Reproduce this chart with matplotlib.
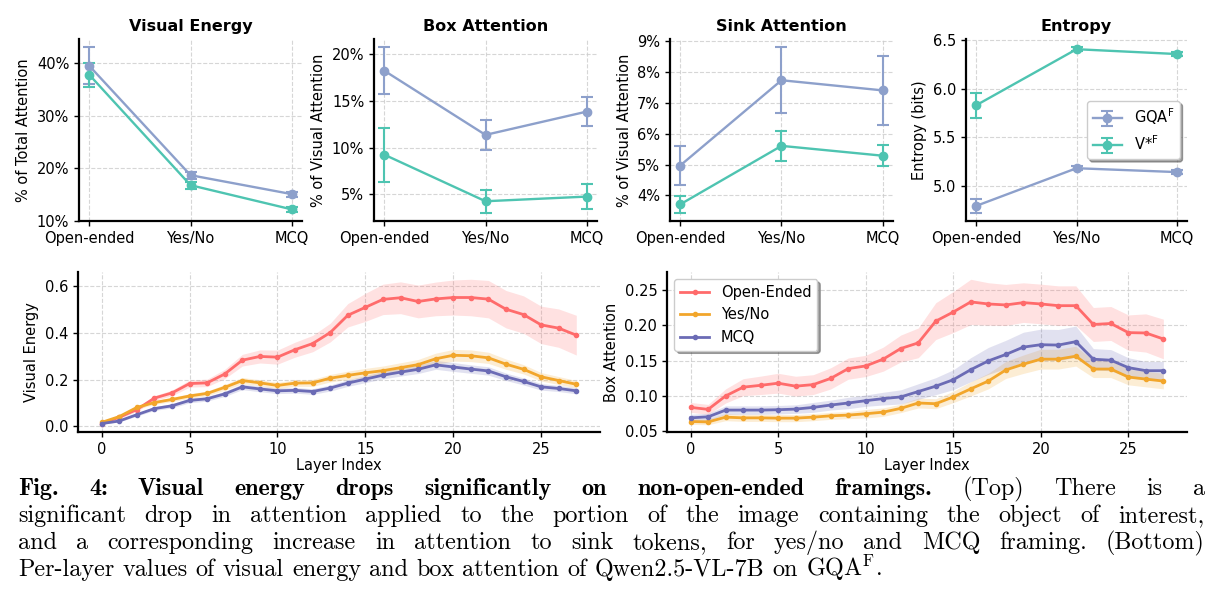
import matplotlib
matplotlib.use("Agg")
import matplotlib.pyplot as plt
from matplotlib.ticker import FuncFormatter
import numpy as np

# ---- data ----
framings = ["Open-ended", "Yes/No", "MCQ"]

ve_gqa = [39.5, 18.7, 15.1]
ve_gqa_err = [3.5, 0.7, 0.5]
ve_vstar = [37.8, 16.8, 12.2]
ve_vstar_err = [2.3, 0.7, 0.5]

box_gqa = [18.25, 11.36, 13.86]
box_gqa_err = [2.5, 1.6, 1.57]
box_vstar = [9.25, 4.25, 4.75]
box_vstar_err = [2.9, 1.23, 1.32]

sink_gqa = [4.97, 7.74, 7.41]
sink_gqa_err = [0.62, 1.07, 1.13]
sink_vstar = [3.71, 5.61, 5.29]
sink_vstar_err = [0.27, 0.49, 0.34]

ent_gqa = [4.79, 5.18, 5.14]
ent_gqa_err = [0.07, 0.02, 0.02]
ent_vstar = [5.83, 6.41, 6.36]
ent_vstar_err = [0.13, 0.02, 0.02]

layers = list(range(28))

energy_open = [0.012, 0.039, 0.072, 0.121, 0.143, 0.183, 0.186, 0.224, 0.283, 0.299,
               0.296, 0.328, 0.354, 0.401, 0.475, 0.509, 0.543, 0.550, 0.534, 0.545,
               0.551, 0.551, 0.544, 0.501, 0.478, 0.434, 0.420, 0.390]
energy_open_std = [0.005, 0.006, 0.008, 0.010, 0.012, 0.015, 0.016, 0.020, 0.025, 0.028,
                   0.030, 0.032, 0.035, 0.040, 0.050, 0.060, 0.065, 0.068, 0.070, 0.072,
                   0.075, 0.078, 0.080, 0.080, 0.080, 0.080, 0.082, 0.085]
energy_yesno = [0.017, 0.042, 0.081, 0.102, 0.115, 0.130, 0.141, 0.167, 0.196, 0.186,
                0.175, 0.185, 0.186, 0.206, 0.218, 0.229, 0.238, 0.251, 0.264, 0.289,
                0.304, 0.302, 0.293, 0.266, 0.244, 0.212, 0.196, 0.180]
energy_yesno_std = [0.003, 0.005, 0.007, 0.008, 0.009, 0.010, 0.010, 0.012, 0.013, 0.013,
                    0.013, 0.014, 0.015, 0.016, 0.018, 0.019, 0.020, 0.021, 0.022, 0.024,
                    0.025, 0.025, 0.024, 0.022, 0.020, 0.018, 0.017, 0.016]
energy_mcq = [0.012, 0.023, 0.050, 0.076, 0.088, 0.111, 0.118, 0.139, 0.169, 0.160,
              0.152, 0.154, 0.149, 0.164, 0.185, 0.202, 0.219, 0.232, 0.244, 0.263,
              0.254, 0.245, 0.237, 0.212, 0.192, 0.169, 0.162, 0.152]
energy_mcq_std = [0.003, 0.004, 0.006, 0.008, 0.009, 0.010, 0.010, 0.011, 0.012, 0.012,
                  0.012, 0.012, 0.012, 0.013, 0.014, 0.015, 0.016, 0.017, 0.018, 0.019,
                  0.019, 0.018, 0.018, 0.016, 0.015, 0.014, 0.013, 0.013]

box_open = [0.0838, 0.0810, 0.1000, 0.1124, 0.1150, 0.1180, 0.1138, 0.1160, 0.1248, 0.1386,
            0.1424, 0.1520, 0.1670, 0.1750, 0.2057, 0.2186, 0.2329, 0.2300, 0.2286, 0.2319,
            0.2300, 0.2276, 0.2276, 0.2010, 0.2024, 0.1895, 0.1890, 0.1805]
box_open_std = [0.007, 0.007, 0.010, 0.012, 0.013, 0.014, 0.014, 0.014, 0.015, 0.015,
                0.015, 0.017, 0.019, 0.021, 0.026, 0.029, 0.032, 0.030, 0.029, 0.028,
                0.028, 0.028, 0.028, 0.024, 0.024, 0.025, 0.027, 0.028]
box_yesno = [0.0638, 0.0633, 0.0700, 0.0690, 0.0690, 0.0686, 0.0686, 0.0700, 0.0719, 0.0729,
             0.0748, 0.0771, 0.0824, 0.0900, 0.0890, 0.0986, 0.1100, 0.1210, 0.1367, 0.1448,
             0.1520, 0.1520, 0.1562, 0.1380, 0.1380, 0.1267, 0.1238, 0.1210]
box_yesno_std = [0.004, 0.004, 0.005, 0.005, 0.005, 0.005, 0.005, 0.005, 0.005, 0.005,
                 0.006, 0.006, 0.006, 0.007, 0.007, 0.008, 0.010, 0.011, 0.012, 0.013,
                 0.014, 0.014, 0.014, 0.012, 0.012, 0.011, 0.011, 0.011]
box_mcq = [0.0690, 0.0705, 0.0800, 0.0800, 0.0800, 0.0805, 0.0814, 0.0838, 0.0871, 0.0900,
           0.0933, 0.0962, 0.0986, 0.1062, 0.1138, 0.1229, 0.1371, 0.1495, 0.1586, 0.1690,
           0.1724, 0.1719, 0.1767, 0.1519, 0.1505, 0.1400, 0.1357, 0.1357]
box_mcq_std = [0.005, 0.005, 0.006, 0.006, 0.006, 0.006, 0.006, 0.007, 0.007, 0.008,
               0.008, 0.009, 0.010, 0.011, 0.012, 0.014, 0.017, 0.019, 0.020, 0.021,
               0.022, 0.022, 0.022, 0.015, 0.015, 0.014, 0.013, 0.013]

c_gqa = "#8DA0CB"
c_vstar = "#4EC4B1"
c_open = "#FF6B6B"
c_yesno = "#F2A62B"
c_mcq = "#6B6BB5"

W, H = 1223, 613
fig = plt.figure(figsize=(W / 100, H / 100), dpi=100)


def px_axes(l, r, t, b):
    return fig.add_axes([l / W, 1 - b / H, (r - l) / W, (b - t) / H])


def style(ax):
    ax.spines["top"].set_visible(False)
    ax.spines["right"].set_visible(False)
    ax.spines["left"].set_linewidth(1.6)
    ax.spines["bottom"].set_linewidth(1.6)
    ax.grid(True, linestyle="--", color="#cccccc", linewidth=0.8, alpha=0.8)
    ax.set_axisbelow(True)
    ax.tick_params(labelsize=10.5, length=3.5, width=1)


pct = FuncFormatter(lambda v, p: f"{v:.0f}%")

top_panels = [
    ("Visual Energy", "% of Total Attention", ve_gqa, ve_gqa_err, ve_vstar, ve_vstar_err, [10, 20, 30, 40], pct),
    ("Box Attention", "% of Visual Attention", box_gqa, box_gqa_err, box_vstar, box_vstar_err, [5, 10, 15, 20], pct),
    ("Sink Attention", "% of Visual Attention", sink_gqa, sink_gqa_err, sink_vstar, sink_vstar_err, [4, 5, 6, 7, 8, 9], pct),
    ("Entropy", "Entropy (bits)", ent_gqa, ent_gqa_err, ent_vstar, ent_vstar_err, [5.0, 5.5, 6.0, 6.5], None),
]
lefts = [(79, 302), (374, 597), (670, 893), (966, 1187)]

for (title, ylabel, g, ge, v, ve, yt, fmt), (l, r) in zip(top_panels, lefts):
    ax = px_axes(l, r, 39, 221)
    style(ax)
    x = np.arange(len(framings))
    ax.errorbar(x, g, yerr=ge, color=c_gqa, marker="o", markersize=6, linewidth=1.7,
                elinewidth=1.5, capsize=4, capthick=1.5, label=r"GQA$^{\mathrm{F}}$")
    ax.errorbar(x, v, yerr=ve, color=c_vstar, marker="o", markersize=6, linewidth=1.7,
                elinewidth=1.5, capsize=4, capthick=1.5, label=r"V*$^{\mathrm{F}}$")
    ax.set_xticks(x)
    ax.set_xticklabels(framings)
    ax.set_yticks(yt)
    if fmt is not None:
        ax.yaxis.set_major_formatter(fmt)
    ax.set_title(title, fontsize=11.5, fontweight="bold", pad=6)
    ax.set_ylabel(ylabel, fontsize=10.5)
    if title == "Entropy":
        ax.legend(loc="center right", fontsize=10.5, shadow=True, framealpha=1,
                  bbox_to_anchor=(1.0, 0.5))

bottom_panels = [
    ("Visual Energy", (78, 600),
     [(energy_open, energy_open_std, c_open, "Open-Ended"),
      (energy_yesno, energy_yesno_std, c_yesno, "Yes/No"),
      (energy_mcq, energy_mcq_std, c_mcq, "MCQ")]),
    ("Box Attention", (667, 1187),
     [(box_open, box_open_std, c_open, "Open-Ended"),
      (box_yesno, box_yesno_std, c_yesno, "Yes/No"),
      (box_mcq, box_mcq_std, c_mcq, "MCQ")]),
]

for ylabel, (l, r), series in bottom_panels:
    ax = px_axes(l, r, 272, 432)
    style(ax)
    for vals, std, col, lab in series:
        vals = np.array(vals)
        std = np.array(std)
        ax.fill_between(layers, vals - std, vals + std, color=col, alpha=0.2, linewidth=0)
        ax.plot(layers, vals, color=col, marker="o", markersize=3, linewidth=2, label=lab)
    ax.set_xlabel("Layer Index", fontsize=10.5, labelpad=1)
    ax.set_ylabel(ylabel, fontsize=10.5)
    if ylabel == "Box Attention":
        ax.legend(loc="upper left", fontsize=10.5, shadow=True, framealpha=1)

# ---- caption, justified like the paper ----
caption_lines = [
    ([("Fig.", "b"), ("4:", "b"), ("Visual", "b"), ("energy", "b"), ("drops", "b"),
      ("significantly", "b"), ("on", "b"), ("non-open-ended", "b"), ("framings.", "b"),
      ("(Top)", "r"), ("There", "r"), ("is", "r"), ("a", "r")], True),
    ([(w, "r") for w in "significant drop in attention applied to the portion of the image "
      "containing the object of interest,".split()], True),
    ([(w, "r") for w in "and a corresponding increase in attention to sink tokens, for "
      "yes/no and MCQ framing. (Bottom)".split()], True),
    ([(w, "r") for w in "Per-layer values of visual energy and box attention of "
      "Qwen2.5-VL-7B on".split()] + [(r"GQA$^{\mathrm{F}}$.", "r")], False),
]
baselines = [495, 522, 549, 576]
x_left, x_right = 18, 1205
last_line_end = 880

renderer = fig.canvas.get_renderer()
line_texts = []
for words, justify in caption_lines:
    texts = []
    for w, wt in words:
        fam = "cmb10" if wt == "b" else "cmr10"
        t = fig.text(0, 0, w, fontfamily=fam, fontsize=16,
                     va="baseline", ha="left", math_fontfamily="cm")
        texts.append(t)
    line_texts.append(texts)


def natural(texts, size):
    return (sum(t.get_window_extent(renderer).width for t in texts)
            + 0.333 * size * 100 / 72 * (len(texts) - 1))


# size the font from where the unjustified last line stops
cap_size = 16 * (last_line_end - x_left) / natural(line_texts[-1], 16)
for texts in line_texts:
    for t in texts:
        t.set_fontsize(cap_size)

for texts, (words, justify), yb in zip(line_texts, caption_lines, baselines):
    widths = [t.get_window_extent(renderer).width for t in texts]
    if justify:
        gap = (x_right - x_left - sum(widths)) / (len(texts) - 1)
    else:
        gap = 0.333 * cap_size * 100 / 72
    xpos = x_left
    for t, w in zip(texts, widths):
        t.set_position((xpos / W, 1 - yb / H))
        xpos += w + gap

fig.savefig("out.png", dpi=100)
